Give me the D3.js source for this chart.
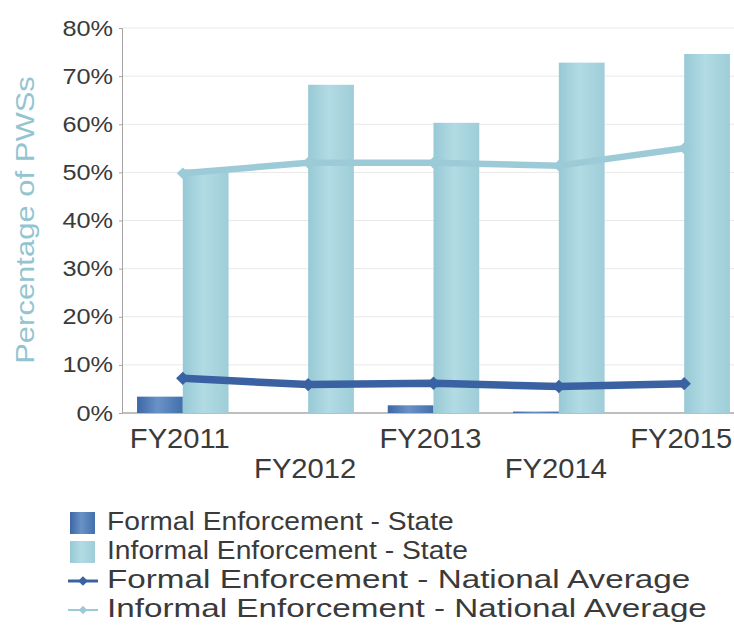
<!DOCTYPE html>
<html>
<head>
<meta charset="utf-8">
<script src="https://cdn.jsdelivr.net/npm/d3@7"></script>
<style>
  html, body { margin: 0; padding: 0; background: #fff; overflow: hidden; }
  svg { display: block; font-family: "Liberation Sans", Arial, Helvetica, sans-serif; }
</style>
</head>
<body>
<svg id="chart" width="734" height="640"></svg>
<script>
// Enforcement rates, percent of public water systems
const years = ["FY2011", "FY2012", "FY2013", "FY2014", "FY2015"];
const formalState = [3.4, 0, 1.6, 0.3, 0];
const informalState = [50.6, 68.2, 60.3, 72.8, 74.6];
const formalNational = [7.2, 5.9, 6.2, 5.5, 6.1];
const informalNational = [49.8, 52.0, 52.0, 51.4, 55.0];
const yTicks = [0, 10, 20, 30, 40, 50, 60, 70, 80];
const legendLabels = [
  "Formal Enforcement - State",
  "Informal Enforcement - State",
  "Formal Enforcement - National Average",
  "Informal Enforcement - National Average"
];

const svg = d3.select("#chart");
const plotLeft = 122, plotTop = 28, plotBottom = 413, plotRight = 745;

const x = d3.scaleBand().domain(years).range([plotLeft, plotRight])
  .paddingInner(0.27).paddingOuter(0.12);
const sub = d3.scaleBand().domain(["formal", "informal"]).range([0, x.bandwidth()]);
const y = d3.scaleLinear().domain([0, 80]).range([plotBottom, plotTop]);

const colDarkLine = "#3a62a2";
const colLightLine = "#9ccbd7";
const textCol = "#3a3a3a";

// Gradients for the bars
const defs = svg.append("defs");
function hGrad(id, stops) {
  const g = defs.append("linearGradient").attr("id", id)
    .attr("x1", "0%").attr("x2", "100%").attr("y1", "0%").attr("y2", "0%");
  stops.forEach(([o, c]) => g.append("stop").attr("offset", o).attr("stop-color", c));
}
hGrad("gFormal", [["0%", "#3d66a6"], ["45%", "#6a92c7"], ["100%", "#4270ac"]]);
hGrad("gInformal", [["0%", "#97c9d5"], ["45%", "#b2dbe4"], ["100%", "#9ecdd8"]]);

// Gridlines
svg.append("g")
  .selectAll("line").data(yTicks.filter(d => d > 0)).join("line")
  .attr("x1", plotLeft).attr("x2", 734)
  .attr("y1", d => y(d)).attr("y2", d => y(d))
  .attr("stroke", "#e8e8e8").attr("stroke-width", 1);

// Y axis
const tickStretch = 1.15;
const yAxis = svg.append("g").attr("transform", `translate(${plotLeft},0)`)
  .call(d3.axisLeft(y).tickValues(yTicks).tickSize(3).tickPadding(6).tickFormat(d => d + "%"));
yAxis.select(".domain").attr("stroke", "#a3a3a3");
yAxis.selectAll(".tick line").attr("stroke", "#a3a3a3");
yAxis.selectAll(".tick text")
  .attr("fill", textCol).attr("font-size", 22)
  .attr("transform", `scale(${tickStretch},1)`)
  .attr("x", -9 / tickStretch);

// Bottom axis line
svg.append("line").attr("x1", plotLeft).attr("x2", 734)
  .attr("y1", plotBottom).attr("y2", plotBottom)
  .attr("stroke", "#a9a9a9").attr("stroke-width", 1.5);

// Bars
const groups = svg.append("g").selectAll("g").data(years).join("g")
  .attr("transform", d => `translate(${x(d)},0)`);
groups.append("rect")
  .attr("x", sub("formal")).attr("width", sub.bandwidth())
  .attr("y", (d, i) => y(formalState[i]))
  .attr("height", (d, i) => plotBottom - y(formalState[i]))
  .attr("fill", "url(#gFormal)");
groups.append("rect")
  .attr("x", sub("informal")).attr("width", sub.bandwidth())
  .attr("y", (d, i) => y(informalState[i]))
  .attr("height", (d, i) => plotBottom - y(informalState[i]))
  .attr("fill", "url(#gInformal)");

// National average lines
const cx = d => x(d) + x.bandwidth() / 2;
function drawLine(values, color, width, markerSize) {
  const pts = years.map((d, i) => [cx(d), y(values[i])]);
  svg.append("path").datum(pts)
    .attr("d", d3.line())
    .attr("fill", "none").attr("stroke", color)
    .attr("stroke-width", width).attr("stroke-linejoin", "round");
  svg.append("g").selectAll("path").data(pts).join("path")
    .attr("transform", p => `translate(${p[0]},${p[1]})`)
    .attr("d", d3.symbol(d3.symbolDiamond2, markerSize)())
    .attr("fill", color);
}
drawLine(informalNational, colLightLine, 6.5, 90);
drawLine(formalNational, colDarkLine, 7.5, 115);

// X labels, staggered on two rows
svg.append("g").selectAll("text").data(years).join("text")
  .attr("transform", (d, i) => `translate(${cx(d) - 3},${i % 2 === 0 ? 448 : 478}) scale(1.08,1)`)
  .attr("text-anchor", "middle")
  .attr("font-size", 27).attr("fill", textCol)
  .text(d => d);

// Y axis title
svg.append("text")
  .attr("transform", "translate(34,220) rotate(-90) scale(1.24,1)")
  .attr("text-anchor", "middle")
  .attr("font-size", 25).attr("fill", "#93c5d1")
  .text("Percentage of PWSs");

// Legend
const legend = svg.append("g");
const rowY = i => 530 + i * 29;
const rowStretch = [1.13, 1.13, 1.33, 1.33];
legendLabels.forEach((label, i) => {
  const g = legend.append("g").attr("transform", `translate(0,${rowY(i)})`);
  if (i === 0 || i === 1) {
    g.append("rect").attr("x", 70).attr("y", -18).attr("width", 25).attr("height", 22)
      .attr("fill", i === 0 ? "url(#gFormal)" : "url(#gInformal)");
  } else {
    const c = i === 2 ? colDarkLine : colLightLine;
    g.append("line").attr("x1", 68).attr("x2", 98).attr("y1", -7).attr("y2", -7)
      .attr("stroke", c).attr("stroke-width", i === 2 ? 3 : 2);
    g.append("path").attr("transform", "translate(83,-7)")
      .attr("d", d3.symbol(d3.symbolDiamond2, i === 2 ? 60 : 45)())
      .attr("fill", c);
  }
  g.append("text").attr("transform", `translate(107,0) scale(${rowStretch[i]},1)`)
    .attr("font-size", 25).attr("fill", textCol)
    .text(label);
});
</script>
</body>
</html>
